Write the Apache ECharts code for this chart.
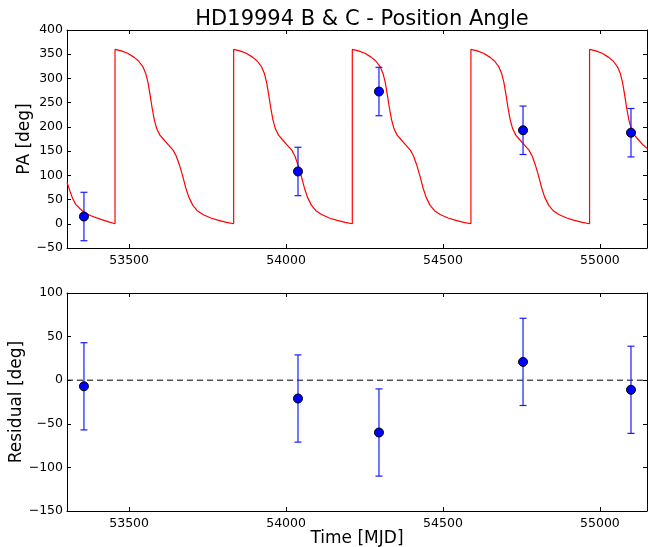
<!DOCTYPE html>
<html>
<head>
<meta charset="utf-8">
<script src="https://cdn.jsdelivr.net/npm/echarts@6/dist/echarts.min.js"></script>
<style>
  html, body { margin: 0; padding: 0; background: #fff; }
  #chart { width: 648px; height: 547px; }
</style>
</head>
<body>
<div id="chart"></div>
<script>
// observations (MJD)
var obsTime = [53356, 54038, 54296, 54755, 55099];
var obsPA = [15, 108, 273, 193, 188];
var obsErr = [50, 50, 50, 50, 50];
var residual = [-7, -21, -60, 21, -11];

// orbit model
var modelTime = [
  53302, 53310, 53320, 53330, 53345, 53360, 53380, 53410, 53435, 53455,
  53455, 53475, 53495, 53515, 53530, 53543, 53553, 53560, 53567, 53573, 53580, 53588, 53598, 53610,
  53625, 53640, 53650, 53660, 53670, 53680, 53690, 53703, 53717, 53735, 53760, 53785, 53810, 53833,
  53833, 53853, 53873, 53893, 53908, 53921, 53931, 53938, 53945, 53951, 53958, 53966, 53976, 53988,
  54003, 54018, 54028, 54038, 54048, 54058, 54068, 54081, 54095, 54113, 54138, 54163, 54188, 54211,
  54211, 54231, 54251, 54271, 54286, 54299, 54309, 54316, 54323, 54329, 54336, 54344, 54354, 54366,
  54381, 54396, 54406, 54416, 54426, 54436, 54446, 54459, 54473, 54491, 54516, 54541, 54566, 54589,
  54589, 54609, 54629, 54649, 54664, 54677, 54687, 54694, 54701, 54707, 54714, 54722, 54732, 54744,
  54759, 54774, 54784, 54794, 54804, 54814, 54824, 54837, 54851, 54869, 54894, 54919, 54944, 54967,
  54967, 54987, 55007, 55027, 55042, 55055, 55065, 55072, 55079, 55085, 55092, 55100, 55110, 55122,
  55137, 55150
];
var modelPA = [
  86, 70, 52, 40, 30, 22, 16, 9, 4, 0,
  360, 357, 352, 344, 336, 325, 310, 292, 265, 240, 215, 196, 183, 174,
  163, 152, 140, 122, 100, 75, 55, 38, 27, 19, 12, 7, 3, 0,
  360, 357, 352, 344, 336, 325, 310, 292, 265, 240, 215, 196, 183, 174,
  163, 152, 140, 122, 100, 75, 55, 38, 27, 19, 12, 7, 3, 0,
  360, 357, 352, 344, 336, 325, 310, 292, 265, 240, 215, 196, 183, 174,
  163, 152, 140, 122, 100, 75, 55, 38, 27, 19, 12, 7, 3, 0,
  360, 357, 352, 344, 336, 325, 310, 292, 265, 240, 215, 196, 183, 174,
  163, 152, 140, 122, 100, 75, 55, 38, 27, 19, 12, 7, 3, 0,
  360, 357, 352, 344, 336, 325, 310, 292, 265, 240, 215, 196, 183, 174,
  163, 156
];

var tMin = 53302, tMax = 55150;
var font = 'DejaVu Sans';

function minus(v) {
  return String(v).replace('-', '\u2212');
}

var modelData = modelTime.map(function (t, i) { return [t, modelPA[i]]; });
var obsData = obsTime.map(function (t, i) { return [t, obsPA[i]]; });
var obsBars = obsTime.map(function (t, i) { return [t, obsPA[i] - obsErr[i], obsPA[i] + obsErr[i]]; });
var resData = obsTime.map(function (t, i) { return [t, residual[i]]; });
var resBars = obsTime.map(function (t, i) { return [t, residual[i] - obsErr[i], residual[i] + obsErr[i]]; });

function errorBar(params, api) {
  var lo = api.coord([api.value(0), api.value(1)]);
  var hi = api.coord([api.value(0), api.value(2)]);
  var style = { stroke: '#1a1aff', lineWidth: 1.2 };
  var w = 3.5;
  return {
    type: 'group',
    children: [
      { type: 'line', shape: { x1: lo[0], y1: lo[1], x2: hi[0], y2: hi[1] }, style: style },
      { type: 'line', shape: { x1: lo[0] - w, y1: lo[1], x2: lo[0] + w, y2: lo[1] }, style: style },
      { type: 'line', shape: { x1: hi[0] - w, y1: hi[1], x2: hi[0] + w, y2: hi[1] }, style: style }
    ]
  };
}

function xAxisDef(grid, pos, labels, name) {
  return {
    type: 'value', gridIndex: grid, position: pos, min: tMin, max: tMax, splitNumber: 4,
    name: name || '', nameLocation: 'middle', nameGap: 19, nameMoveOverlap: false,
    nameTextStyle: { fontFamily: font, fontSize: 17, color: '#000', verticalAlign: 'top' },
    axisLine: { onZero: false, lineStyle: { color: '#000', width: 1 } },
    axisTick: { inside: true, length: 4, lineStyle: { color: '#000' } },
    axisLabel: {
      show: labels, fontFamily: font, fontSize: 12.5, color: '#000', margin: 6,
      showMinLabel: false, showMaxLabel: false,
      formatter: function (v) { return v % 500 === 0 ? String(v) : ''; }
    },
    splitLine: { show: false }
  };
}

function yAxisDef(grid, pos, min, max, labels, name, gap) {
  return {
    type: 'value', gridIndex: grid, position: pos, min: min, max: max, interval: 50,
    name: name || '', nameLocation: 'middle', nameGap: gap || 38, nameRotate: 90,
    nameMoveOverlap: false,
    nameTextStyle: { fontFamily: font, fontSize: 17, color: '#000' },
    axisLine: { onZero: false, lineStyle: { color: '#000', width: 1 } },
    axisTick: { inside: true, length: 4, lineStyle: { color: '#000' } },
    axisLabel: { show: labels, fontFamily: font, fontSize: 12.5, color: '#000', margin: 4, formatter: minus },
    splitLine: { show: false }
  };
}

var chart = echarts.init(document.getElementById('chart'));
chart.setOption({
  animation: false,
  backgroundColor: '#fff',
  title: {
    text: 'HD19994 B & C - Position Angle',
    left: 357, top: 4, textAlign: 'center',
    textStyle: { fontFamily: font, fontSize: 21, fontWeight: 'normal', color: '#000' }
  },
  grid: [
    { left: 67, top: 30, width: 580, height: 218, outerBoundsMode: 'none' },
    { left: 67, top: 293, width: 580, height: 218, outerBoundsMode: 'none' }
  ],
  xAxis: [
    xAxisDef(0, 'bottom', true),
    xAxisDef(0, 'top', false),
    xAxisDef(1, 'bottom', true, 'Time [MJD]'),
    xAxisDef(1, 'top', false)
  ],
  yAxis: [
    yAxisDef(0, 'left', -50, 400, true, 'PA [deg]', 34),
    yAxisDef(0, 'right', -50, 400, false),
    yAxisDef(1, 'left', -150, 100, true, 'Residual [deg]', 42),
    yAxisDef(1, 'right', -150, 100, false)
  ],
  series: [
    {
      name: 'model', type: 'line', xAxisIndex: 0, yAxisIndex: 0,
      data: modelData, showSymbol: false, symbol: 'none',
      lineStyle: { color: '#ff0000', width: 1.2 }, z: 2
    },
    {
      name: 'PA err', type: 'custom', xAxisIndex: 0, yAxisIndex: 0,
      data: obsBars, renderItem: errorBar, encode: { x: 0, y: [1, 2] }, z: 3
    },
    {
      name: 'PA', type: 'scatter', xAxisIndex: 0, yAxisIndex: 0,
      data: obsData, symbolSize: 9,
      itemStyle: { color: '#0000ff', borderColor: '#000', borderWidth: 1, opacity: 1 }, z: 4
    },
    {
      name: 'zero', type: 'line', xAxisIndex: 2, yAxisIndex: 2,
      data: [[tMin, 0], [tMax, 0]], symbol: 'none',
      lineStyle: { color: '#000', width: 1, type: [6, 4] }, z: 2
    },
    {
      name: 'res err', type: 'custom', xAxisIndex: 2, yAxisIndex: 2,
      data: resBars, renderItem: errorBar, encode: { x: 0, y: [1, 2] }, z: 3
    },
    {
      name: 'residual', type: 'scatter', xAxisIndex: 2, yAxisIndex: 2,
      data: resData, symbolSize: 9,
      itemStyle: { color: '#0000ff', borderColor: '#000', borderWidth: 1, opacity: 1 }, z: 4
    }
  ]
});
</script>
</body>
</html>
